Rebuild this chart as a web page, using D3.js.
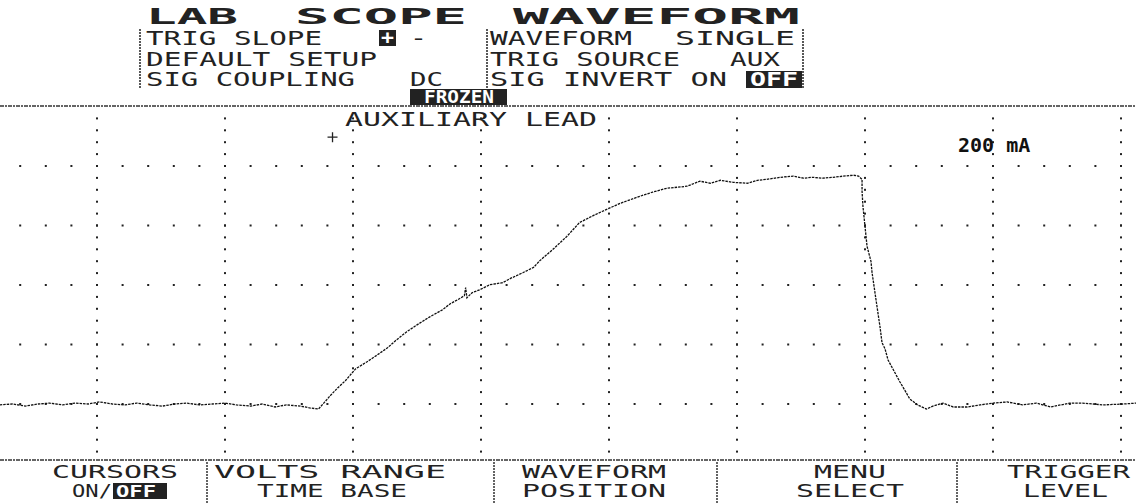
<!DOCTYPE html>
<html>
<head>
<meta charset="utf-8">
<script src="https://cdn.jsdelivr.net/npm/d3@7"></script>
<style>
  body { margin: 0; background: #fff; }
  svg { display: block; }
  text { font-family: "DejaVu Sans Mono", monospace; }
</style>
</head>
<body>
<svg width="1136" height="504"></svg>
<script>
// trace: time in divisions, current in mA (200 mA / div)
var timeDiv = [-0.76, -0.66, -0.56, -0.46, -0.37, -0.27, -0.17, -0.07, 0.02, 0.12, 0.22, 0.31, 0.41, 0.51,
    0.61, 0.70, 0.80, 0.90, 1.00, 1.09, 1.20, 1.29, 1.39, 1.48, 1.59, 1.66, 1.73,
    1.78, 1.82, 1.88, 1.94, 2.02, 2.11, 2.19, 2.27, 2.33, 2.42, 2.50, 2.60, 2.70, 2.76, 2.82, 2.87, 2.88,
    2.89, 2.93, 2.99, 3.07, 3.17, 3.23, 3.33, 3.41, 3.46, 3.56, 3.67, 3.77, 3.88, 3.95, 4.09, 4.24, 4.34,
    4.45, 4.61, 4.71, 4.79, 4.87, 4.97, 5.08, 5.16, 5.23, 5.34, 5.44, 5.52, 5.59, 5.67, 5.75, 5.83, 5.91, 5.95,
    5.977, 5.977, 5.984, 6.000, 6.016, 6.047, 6.055, 6.078, 6.094, 6.117, 6.133, 6.156, 6.180, 6.234, 6.273,
    6.31, 6.35, 6.41, 6.48, 6.53, 6.61, 6.69, 6.80, 6.90, 7.00, 7.11, 7.23, 7.34, 7.45, 7.60, 7.70, 7.86, 8.02, 8.12];
var currentMa = [-3, 0, -7, 0, 3, -3, 3, 0, 7, 0, -3, 3, -3, -7,
    0, 3, -3, 0, 3, -3, -7, 0, -10, -3, -7, -13, -17,
    7, 27, 54, 78, 118, 142, 165, 189, 212, 243, 266, 293, 317, 337, 351, 364, 391,
    357, 374, 384, 401, 408, 422, 442, 459, 482, 519, 563, 610, 634, 648, 675, 698, 712,
    725, 732, 749, 742, 752, 745, 742, 752, 755, 762, 766, 759, 762, 759, 762, 766, 769, 766,
    755, 715, 664, 597, 530, 479, 442, 374, 327, 260, 206, 186, 148, 105, 74,
    47, 17, -3, -17, -7, 3, -10, -10, -3, 3, 7, -3, 3, -10, 3, 3, -3, 0, 3];

var titleWords = ["LAB", "SCOPE", "WAVEFORM"];
var leftItems = ["TRIG SLOPE", "DEFAULT SETUP", "SIG COUPLING"];
var rightItems = ["WAVEFORM", "TRIG SOURCE", "SIG INVERT ON"];
var rightValues = ["SINGLE", "AUX", "OFF"];
var softKeys = [["CURSORS", "ON/"], ["VOLTS RANGE", "TIME BASE"], ["WAVEFORM", "POSITION"],
    ["MENU", "SELECT"], ["TRIGGER", "LEVEL"]];
var channelName = "AUXILIARY LEAD";
var scaleText = "200 mA";
var statusText = "FROZEN";

var svg = d3.select("svg");
var ink = "#222";

var x = d3.scaleLinear().domain([0, 8]).range([97, 1121]);
var y = d3.scaleLinear().domain([0, 1000]).range([404, 106.5]);

// lcd style text stretched to a measured width
function lcd(g, str, x0, x1, base, size, weight, fill) {
    return g.append("text")
        .attr("x", x0).attr("y", base)
        .attr("textLength", x1 - x0)
        .attr("lengthAdjust", "spacingAndGlyphs")
        .attr("font-size", size)
        .attr("font-weight", weight || "normal")
        .attr("fill", fill || ink)
        .text(str);
}

// ---------- header ----------
var head = svg.append("g");
var titlePos = [[146, 238], [295, 467], [513, 800]];
titleWords.forEach(function(w, i) {
    lcd(head, w, titlePos[i][0], titlePos[i][1], 24, 22, "bold");
});

var rowBase = [45, 66, 86];
var leftPos = [[146, 322], [146, 377], [146, 355]];
var rightPos = [[490, 632], [490, 680], [490, 727]];
var valPos = [[675, 795], [730, 780], [748, 800]];
leftItems.forEach(function(s, i) { lcd(head, s, leftPos[i][0], leftPos[i][1], rowBase[i], 19); });
rightItems.forEach(function(s, i) { lcd(head, s, rightPos[i][0], rightPos[i][1], rowBase[i], 19); });
rightValues.forEach(function(s, i) {
    if (i == 2) {
        head.append("rect").attr("x", valPos[i][0] - 2).attr("y", rowBase[i] - 15)
            .attr("width", valPos[i][1] - valPos[i][0] + 4).attr("height", 17).attr("fill", ink);
        lcd(head, s, valPos[i][0] + 2, valPos[i][1] - 2, rowBase[i], 19, "bold", "#fff");
    } else {
        lcd(head, s, valPos[i][0], valPos[i][1], rowBase[i], 19);
    }
});
// slope + (selected) / -
head.append("rect").attr("x", 379).attr("y", 30).attr("width", 17).attr("height", 16).attr("fill", ink);
lcd(head, "+", 381, 394, 44, 19, "bold", "#fff");
lcd(head, "-", 410, 427, 45, 19);
lcd(head, "DC", 410, 443, 86, 19);

[140, 487, 803].forEach(function(bx) {
    head.append("line").attr("x1", bx).attr("x2", bx).attr("y1", 29).attr("y2", 88)
        .attr("stroke", ink).attr("stroke-width", 1.5).attr("stroke-dasharray", "2 1");
});

head.append("rect").attr("x", 410).attr("y", 89).attr("width", 97).attr("height", 16).attr("fill", ink);
lcd(head, statusText, 424, 494, 103, 17, "bold", "#fff");

// ---------- grid ----------
var grid = svg.append("g");
var dotsV = [];
d3.range(0, 9).forEach(function(d) {
    d3.range(-160, 1000, 40).forEach(function(v) { dotsV.push([d, v]); });
});
var dotsH = [];
d3.range(0, 1000, 200).forEach(function(v) {
    d3.range(-0.6, 8.1, 0.2).forEach(function(d) { dotsH.push([d, v]); });
});
grid.selectAll("rect.dot")
    .data(dotsV.concat(dotsH))
    .enter()
    .append("rect")
    .attr("class", "dot")
    .attr("x", function(d) { return x(d[0]) - 1; })
    .attr("y", function(d) { return y(d[1]) - 1; })
    .attr("width", 2).attr("height", 2)
    .attr("fill", "#222");

// separators
[106, 460].forEach(function(sy) {
    svg.append("line").attr("x1", 0).attr("x2", 1136).attr("y1", sy).attr("y2", sy)
        .attr("stroke", "#333").attr("stroke-width", 1.4).attr("stroke-dasharray", "4 1 2 1");
});

// cursor marker
var cx = x(1.84), cy = y(897);
svg.append("path")
    .attr("d", "M" + (cx - 5) + "," + cy + "H" + (cx + 5) + "M" + cx + "," + (cy - 5) + "V" + (cy + 5))
    .attr("stroke", ink).attr("stroke-width", 1.3);

lcd(svg, channelName, 345, 597, 126, 19);

svg.append("text")
    .attr("x", 958).attr("y", 152)
    .attr("font-family", "Liberation Sans, Arial, sans-serif")
    .attr("font-weight", "bold").attr("font-size", 20)
    .attr("fill", "#111")
    .text(scaleText);

// ---------- trace ----------
var trace = timeDiv.map(function(t, i) { return [t, currentMa[i]]; });
var line = d3.line()
    .x(function(d) { return x(d[0]); })
    .y(function(d) { return y(d[1]); });
svg.append("path")
    .datum(trace)
    .attr("d", line)
    .attr("fill", "none")
    .attr("stroke", "#111")
    .attr("stroke-width", 1.3)
    .attr("stroke-dasharray", "2.5 1");

// ---------- soft keys ----------
var keys = svg.append("g");
var keyPos = [
    [[52, 178], [72, 112]],
    [[214, 446], [257, 407]],
    [[522, 666], [522, 666]],
    [[814, 886], [796, 904]],
    [[1007, 1130], [1023, 1108]]
];
softKeys.forEach(function(k, i) {
    lcd(keys, k[0], keyPos[i][0][0], keyPos[i][0][1], 478, 17);
    lcd(keys, k[1], keyPos[i][1][0], keyPos[i][1][1], 497, 17);
});
keys.append("rect").attr("x", 113).attr("y", 483).attr("width", 54).attr("height", 16).attr("fill", ink);
lcd(keys, "OFF", 116, 156, 497, 16, "bold", "#fff");
[207, 494, 717, 957].forEach(function(bx) {
    keys.append("line").attr("x1", bx).attr("x2", bx).attr("y1", 462).attr("y2", 504)
        .attr("stroke", ink).attr("stroke-width", 1.4).attr("stroke-dasharray", "2 1");
});
</script>
</body>
</html>
